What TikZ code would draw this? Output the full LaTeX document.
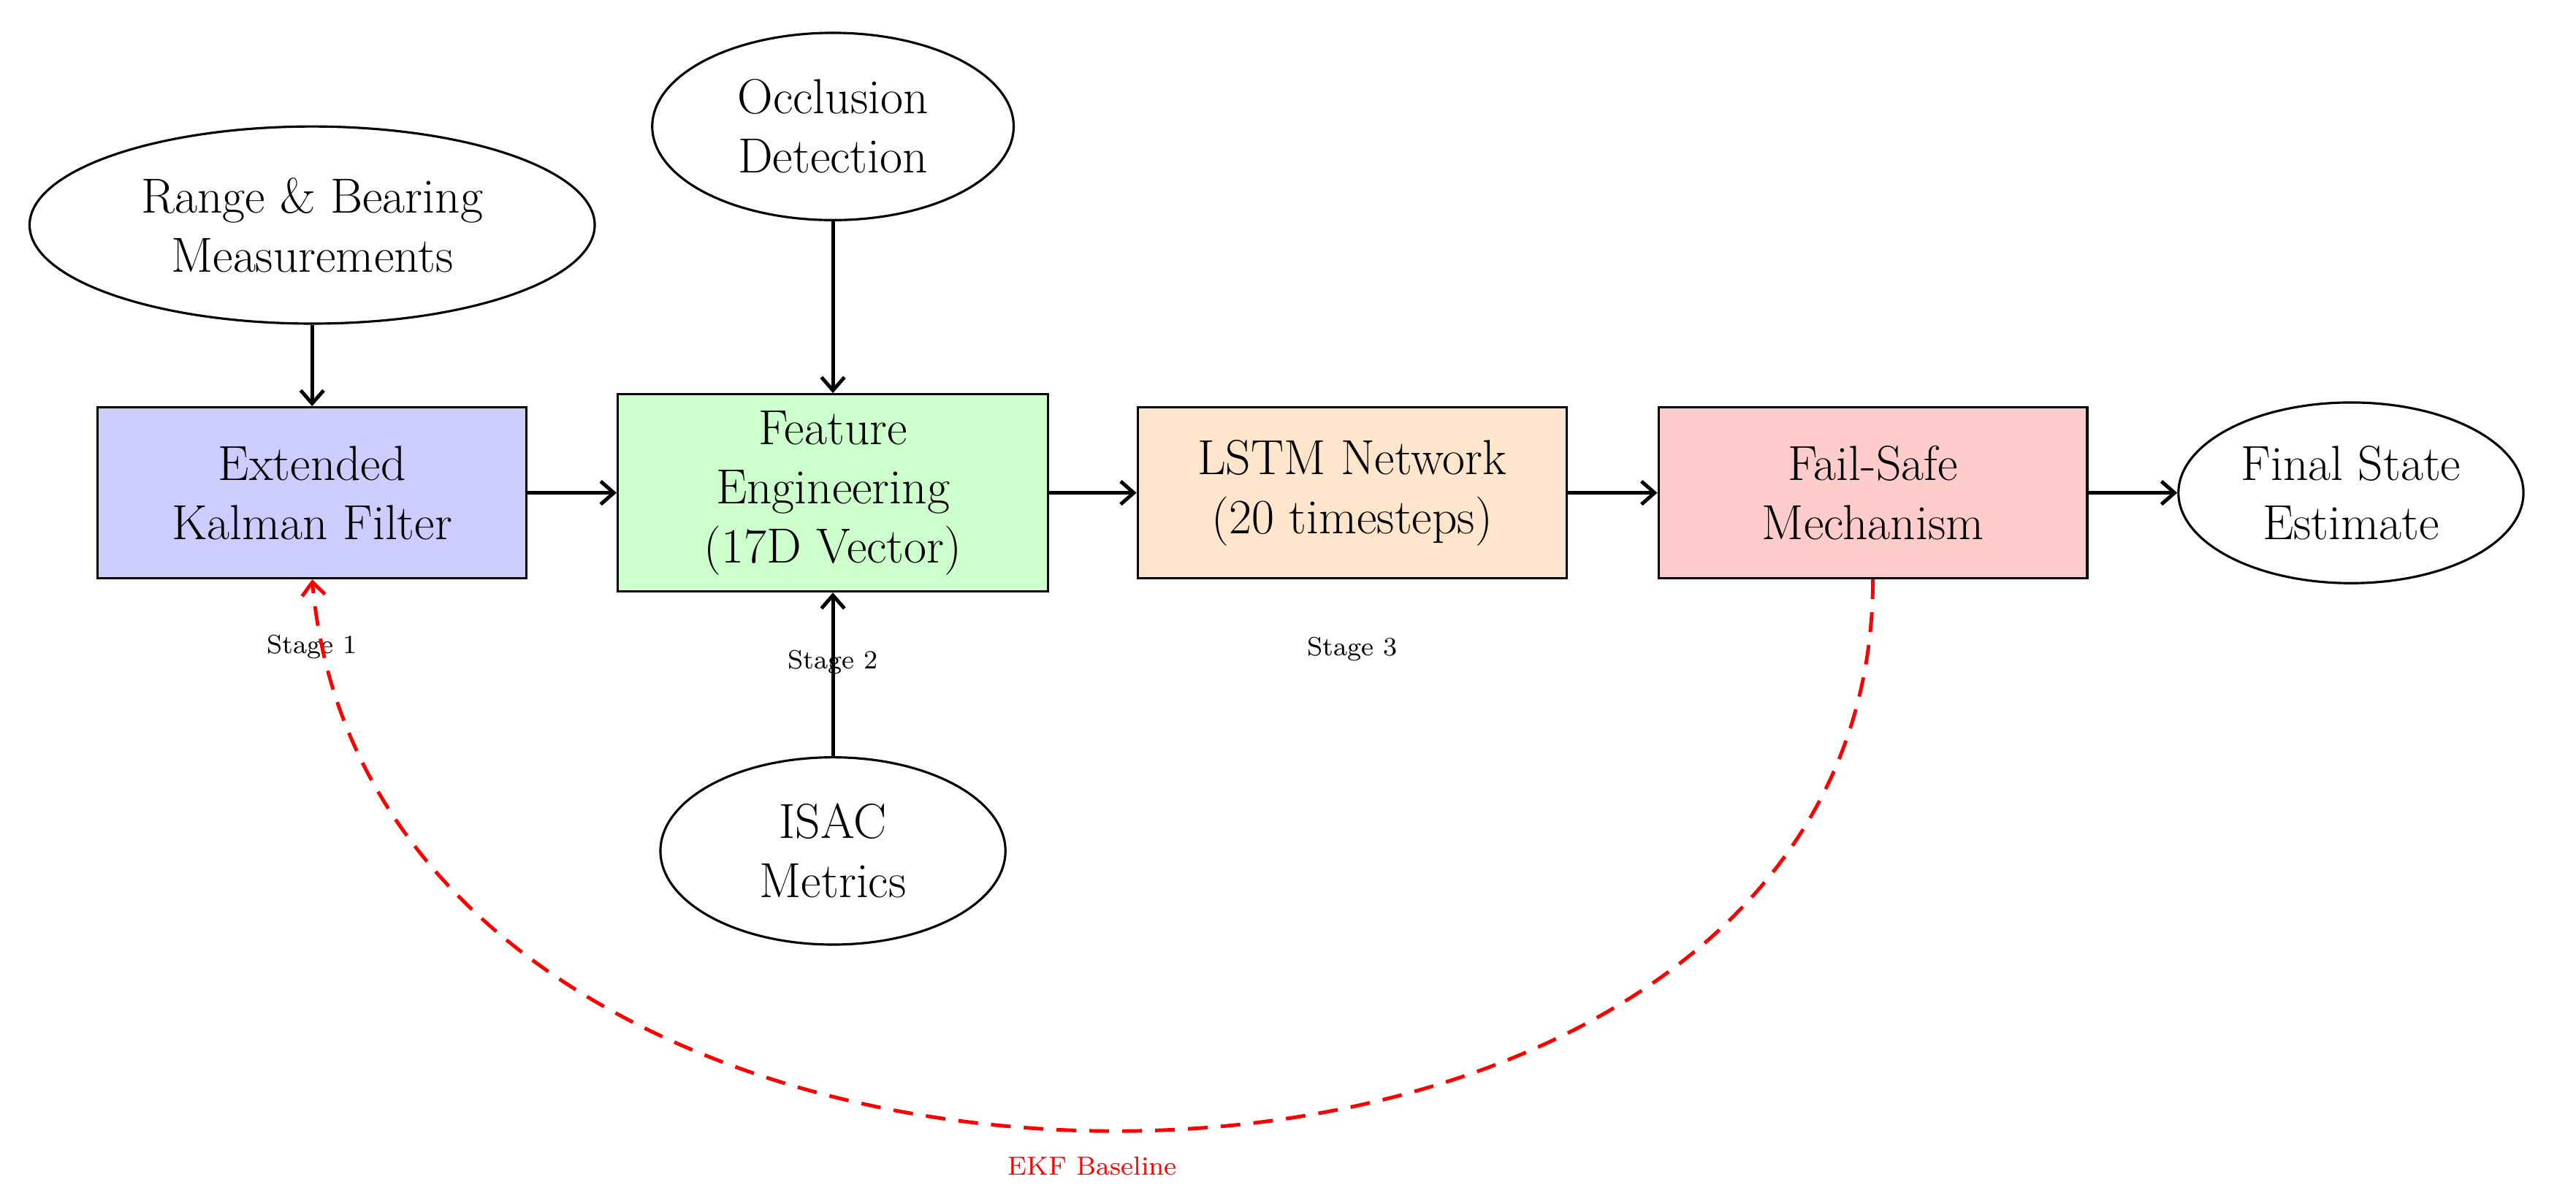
\documentclass[tikz,border=0pt]{standalone}
\usetikzlibrary{shapes.geometric,arrows.meta}
\begin{document}
\begin{tikzpicture}[x=0.5pt,y=-0.5pt,
  txt/.style={font=\fontsize{15}{18}\selectfont,align=center,inner sep=0pt},
  box/.style={txt,draw,line width=0.7pt,rectangle,minimum width=130.5pt,minimum height=52pt},
  ell/.style={txt,draw,line width=0.7pt,ellipse},
  arr/.style={line width=1.1pt,-{Straight Barb[length=4pt,width=7pt]}},
  stage/.style={font=\fontsize{8}{9}\selectfont}]
\useasboundingbox (0,0) rectangle (1568,731);
\node[box,fill=blue!20] (ekf) at (190,300) {Extended\\Kalman Filter};
\node[box,fill=green!20,minimum width=131pt,minimum height=60pt] (fe) at (507,300) {Feature\\Engineering\\(17D Vector)};
\node[box,fill=orange!20] (lstm) at (823,300) {LSTM Network\\(20 timesteps)};
\node[box,fill=red!20] (fs) at (1140,300) {Fail-Safe\\Mechanism};
\node[ell,minimum width=105pt,minimum height=55pt] (fin) at (1431,300) {Final State\\Estimate};
\node[ell,minimum width=172pt,minimum height=60pt] (rb) at (190,137) {Range \& Bearing\\Measurements};
\node[ell,minimum width=110pt,minimum height=57pt] (oc) at (507,77) {Occlusion\\Detection};
\node[ell,minimum width=105pt,minimum height=57pt] (is) at (507,518) {ISAC\\Metrics};
\node[stage] (s1) at (190,394) {Stage 1};
\node[stage] (s2) at (507,403) {Stage 2};
\node[stage] (s3) at (823,395) {Stage 3};
\draw[arr] (rb.south) -- (ekf.north);
\draw[arr] (oc.south) -- (fe.north);
\draw[arr] (is.north) -- (fe.south);
\draw[arr] (ekf) -- (fe);
\draw[arr] (fe) -- (lstm);
\draw[arr] (lstm) -- (fs);
\draw[arr] (fs) -- (fin);
\draw[red,line width=1.1pt,dash pattern=on 6pt off 4pt,-{Straight Barb[length=4pt,width=7pt]}]
  (fs.south) .. controls (1140,800) and (230,800) .. (ekf.south);
\node[stage,text=red] (lb) at (665,710) {EKF Baseline};
\end{tikzpicture}
\end{document}
